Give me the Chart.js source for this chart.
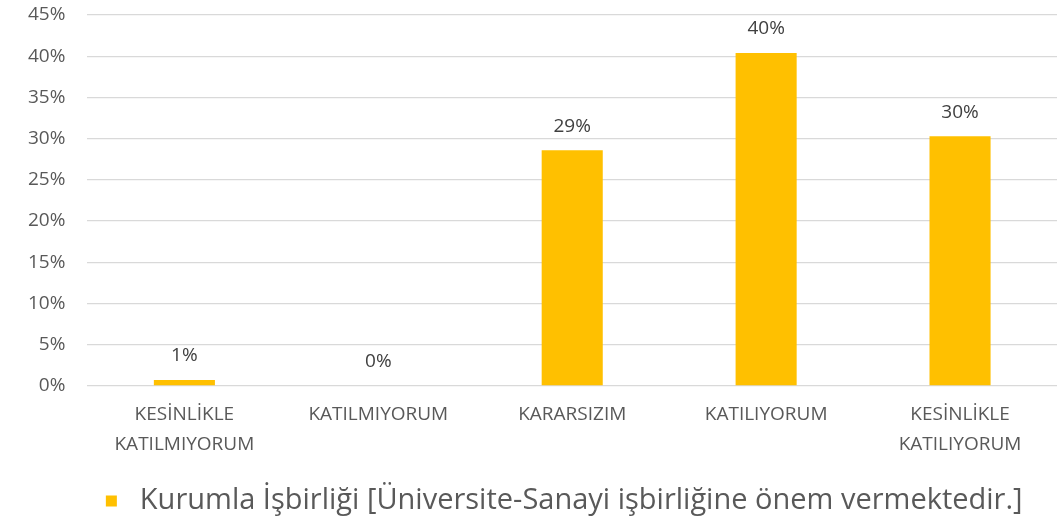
<!DOCTYPE html>
<html>
<head>
<meta charset="utf-8">
<script src="https://cdn.jsdelivr.net/npm/chart.js@4/dist/chart.umd.min.js"></script>
<style>
  html, body { margin: 0; padding: 0; background: #fff; }
  #wrap { width: 1059px; height: 520px; }
</style>
</head>
<body>
<div id="wrap"><canvas id="chart" width="1059" height="520"></canvas></div>
<script>
'use strict';

// Values (percent)
const categories = [
  ['KESİNLİKLE', 'KATILMIYORUM'],
  'KATILMIYORUM',
  'KARARSIZIM',
  'KATILIYORUM',
  ['KESİNLİKLE', 'KATILIYORUM'],
];
const seriesName = 'Kurumla İşbirliği [Üniversite-Sanayi işbirliğine önem vermektedir.]';
const seriesValues = [0.73, 0, 28.6, 40.4, 30.3];
const yTicks = [0, 5, 10, 15, 20, 25, 30, 35, 40, 45];

const FONT = "'Open Sans', 'Liberation Sans', sans-serif";
const TEXT = '#595959';

// Value labels above each bar
const valueLabels = {
  id: 'valueLabels',
  afterDatasetsDraw(chart) {
    const ctx = chart.ctx;
    const meta = chart.getDatasetMeta(0);
    ctx.save();
    ctx.fillStyle = '#404040';
    ctx.font = `19px ${FONT}`;
    ctx.textAlign = 'center';
    ctx.textBaseline = 'middle';
    meta.data.forEach((bar, i) => {
      const v = chart.data.datasets[0].data[i];
      ctx.fillText(`${Math.round(v)}%`, bar.x, bar.y - 24);
    });
    ctx.restore();
  },
};

// Legend drawn under the plot
const bottomLegend = {
  id: 'bottomLegend',
  afterDraw(chart) {
    const ctx = chart.ctx;
    const ds = chart.data.datasets[0];
    const area = chart.chartArea;
    const box = 11, gap = 23, y = 501;
    ctx.save();
    ctx.font = `29px ${FONT}`;
    const tw = ctx.measureText(ds.label).width;
    const x0 = (area.left + area.right) / 2 - 8 - (box + gap + tw) / 2;
    ctx.fillStyle = ds.backgroundColor;
    ctx.fillRect(x0, y - box / 2, box, box);
    ctx.fillStyle = TEXT;
    ctx.textBaseline = 'middle';
    ctx.fillText(ds.label, x0 + box + gap, y);
    ctx.restore();
  },
};

new Chart(document.getElementById('chart'), {
  type: 'bar',
  data: {
    labels: categories,
    datasets: [{
      label: seriesName,
      data: seriesValues,
      backgroundColor: '#FFC000',
      borderWidth: 0,
      categoryPercentage: 0.315,
      barPercentage: 1,
    }],
  },
  options: {
    responsive: false,
    animation: false,
    layout: { padding: { top: 15, right: 2, left: 6, bottom: 46 } },
    plugins: {
      legend: { display: false },
      tooltip: { enabled: false },
    },
    scales: {
      x: {
        grid: { display: false, drawTicks: false },
        border: { display: false },
        ticks: {
          color: TEXT,
          font: { family: FONT, size: 19, lineHeight: 1.58 },
          padding: 14,
          maxRotation: 0,
          autoSkip: false,
        },
      },
      y: {
        min: 0,
        max: 45,
        afterBuildTicks: (axis) => { axis.ticks = yTicks.map(v => ({ value: v })); },
        afterFit: (axis) => { axis.paddingTop = 0; },
        grid: { color: '#d9d9d9', lineWidth: 1.3, drawTicks: false },
        border: { display: false },
        ticks: {
          color: TEXT,
          font: { family: FONT, size: 19 },
          padding: 22,
          callback: (v) => `${v}%`,
        },
      },
    },
  },
  plugins: [valueLabels, bottomLegend],
});
</script>
</body>
</html>
